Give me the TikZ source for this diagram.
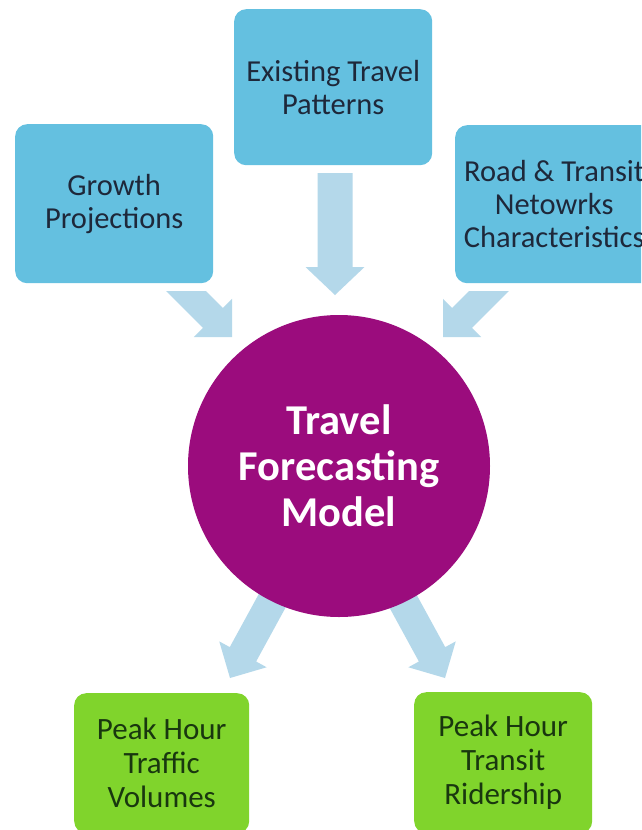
\documentclass[tikz,border=0pt]{standalone}
\usepackage{fontspec}
\setmainfont{Carlito}
\usetikzlibrary{calc}
\definecolor{boxblue}{RGB}{100,192,224}
\definecolor{arrowblue}{RGB}{180,216,234}
\definecolor{hubpurple}{RGB}{155,12,125}
\definecolor{boxgreen}{RGB}{128,212,44}
\definecolor{bluetext}{RGB}{30,40,58}
\definecolor{greentext}{RGB}{25,55,15}
\newcommand\blockarr[5]{%
  \coordinate (ab) at ($(#2)!#5!(#1)$);
  \fill[arrowblue] ($(#1)!#3!90:(#2)$) -- ($(ab)!#3!90:(#2)$) -- ($(ab)!#4!90:(#2)$)
    -- (#2) -- ($(ab)!#4!-90:(#2)$) -- ($(ab)!#3!-90:(#2)$) -- ($(#1)!#3!-90:(#2)$) -- cycle;}
\tikzset{
  inbox/.style={draw=none, fill=boxblue, rounded corners=12pt, anchor=north west,
    inner sep=0pt, align=center, text=bluetext,
    font=\fontsize{30.5}{33}\selectfont},
  outbox/.style={draw=none, fill=boxgreen, rounded corners=12pt, anchor=north west,
    inner sep=0pt, align=center, text=greentext,
    font=\fontsize{31}{34}\selectfont},
  hub/.style={circle, fill=hubpurple, draw=none, minimum size=302pt, inner sep=0pt,
    align=center, text=white, font=\bfseries\fontsize{42.5}{46}\selectfont}
}
\begin{document}
\begin{tikzpicture}[x=1pt,y=-1pt]
\clip (0,0) rectangle (641,830);
\fill[white] (0,0) rectangle (641,830);
% arrow anchor points
\coordinate (ulS) at (150,255); \coordinate (ulT) at (232,337);
\coordinate (urS) at (525,255); \coordinate (urT) at (443,337);
\coordinate (vS) at (335,173);  \coordinate (vT) at (335,295);
\coordinate (llS) at (283,581); \coordinate (llT) at (230,678);
\coordinate (lrS) at (392,581); \coordinate (lrT) at (445,678);
\begin{scope}
  \clip (0,291) rectangle (641,830);
  \blockarr{ulS}{ulT}{14pt}{27pt}{27pt}
  \blockarr{urS}{urT}{14pt}{27pt}{27pt}
\end{scope}
\blockarr{vS}{vT}{17.5pt}{29.5pt}{28pt}
\blockarr{llS}{llT}{15pt}{27pt}{27pt}
\blockarr{lrS}{lrT}{15pt}{27pt}{27pt}
% hub
\node[hub] (model) at (339,466) {Travel\\Forecasting\\Model};
% input boxes
\node[inbox, minimum width=198pt, minimum height=159pt] (growth) at (15,124) {Growth\\Projections};
\node[inbox, minimum width=198pt, minimum height=156pt] (exist) at (234,9) {Existing Travel\\Patterns};
\node[inbox, minimum width=198pt, minimum height=158pt] (road) at (455,125) {Road \& Transit\\Netowrks\\Characteristics};
% output boxes
\node[outbox, minimum width=175pt, minimum height=140pt] (traffic) at (74,693) {Peak Hour\\Traffic\\Volumes};
\node[outbox, minimum width=178pt, minimum height=141pt] (transit) at (414,692) {Peak Hour\\Transit\\Ridership};
\end{tikzpicture}
\end{document}
